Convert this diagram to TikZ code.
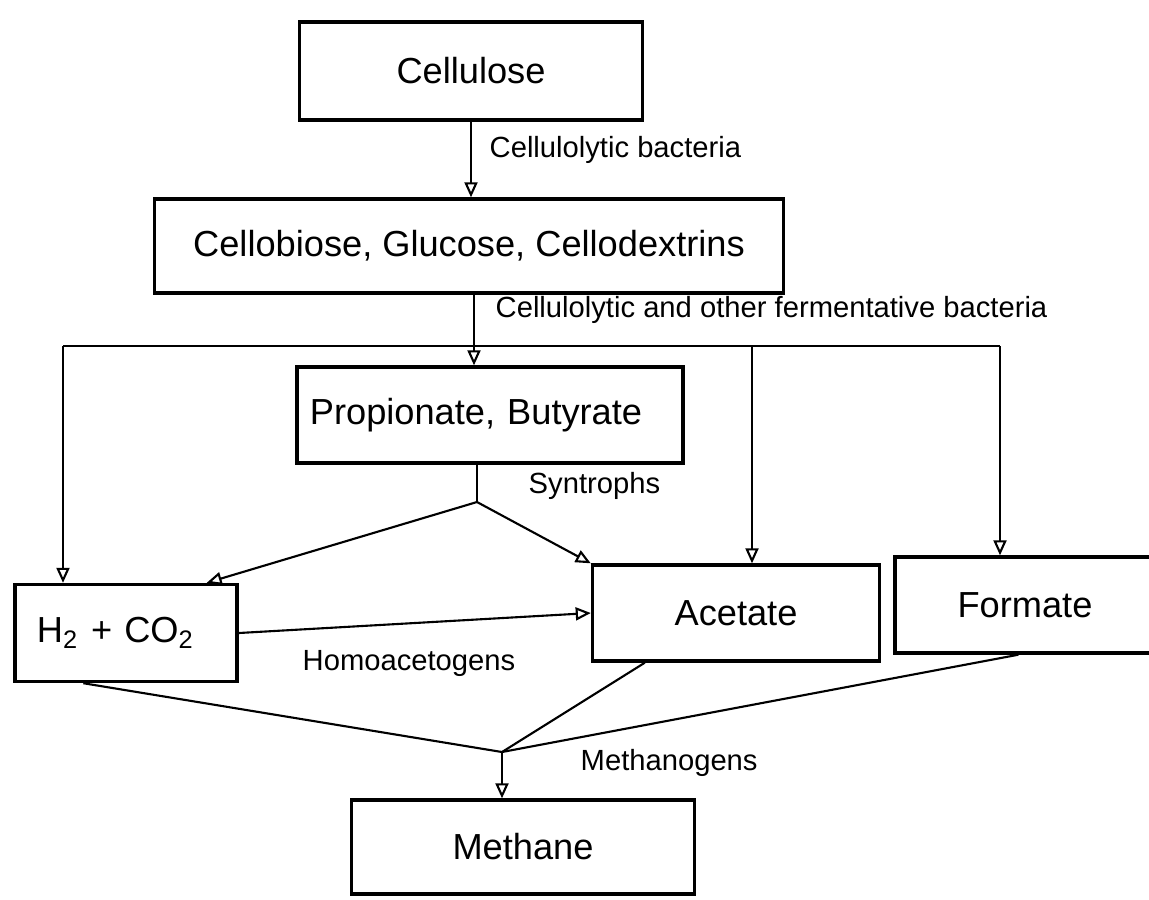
\documentclass[tikz,border=0pt]{standalone}
\usepackage{fontspec}
\setmainfont{Liberation Sans}
\usetikzlibrary{arrows.meta, calc}
\tikzset{
  box/.style={rectangle, draw=black, line width=0.95pt, minimum height=0.96cm,
    align=center, inner sep=0pt, font=\fontsize{10.3}{12}\selectfont},
  lbl/.style={anchor=west, inner sep=0pt, font=\fontsize{8.3}{10}\selectfont},
  arrow/.style={-{Triangle[open, length=1.5mm, width=1.3mm]}, line width=0.6pt},
  line/.style={line width=0.6pt}
}

\begin{document}
\begin{tikzpicture}[x=0.01cm, y=-0.01cm]
  \useasboundingbox (0,0) rectangle (1149,899);

  % Substances
  \node[box, minimum width=3.43cm, minimum height=0.98cm] (cell) at (471,71) {Cellulose};
  \node[box, minimum width=6.28cm, minimum height=0.94cm] (cello) at (469,246) {Cellobiose, Glucose, Cellodextrins};
  \node[box, text width=3.6cm, align=left, inner xsep=0.13cm] (prop) at (490,415) {Propionate, Butyrate};
  \node[box, text width=1.78cm, align=left, inner xsep=0.22cm, minimum height=0.97cm] (h2) at (126,633) {H\textsubscript{2} + CO\textsubscript{2}};
  \node[box, minimum width=2.87cm] (acet) at (736,613) {Acetate};
  \node[box, minimum width=2.60cm] (form) at (1025,605) {Formate};
  \node[box, minimum width=3.43cm, minimum height=0.94cm] (meth) at (523,847) {Methane};

  % Junction points
  \coordinate (jc) at (474,346);
  \coordinate (jl) at (63,346);
  \coordinate (ja) at (752,346);
  \coordinate (jf) at (1000,346);
  \coordinate (fork) at (477,502);
  \coordinate (merge) at (502,752);

  % Hydrolysis
  \draw[arrow] (cell.south) -- (cell.south |- cello.north);
  \node[lbl] (lblcell) at (489,150) {Cellulolytic bacteria};

  % Fermentation
  \draw[line] (jc |- cello.south) -- (jc);
  \draw[arrow] (jc) -- (jc |- prop.north);
  \draw[line] (jl) -- (jf);
  \draw[arrow] (jl) -- (jl |- h2.north);
  \draw[arrow] (ja) -- (ja |- acet.north);
  \draw[arrow] (jf) -- (jf |- form.north);
  \node[lbl] (lblferm) at (495,310) {Cellulolytic and other fermentative bacteria};

  % Syntrophy
  \draw[line] (fork |- prop.south) -- (fork);
  \draw[arrow] (fork) -- ([xshift=-0.32cm]h2.north east);
  \draw[arrow] (fork) -- (acet.north west);
  \node[lbl] (lblsyn) at (528,486) {Syntrophs};

  % Homoacetogenesis
  \draw[arrow] (h2.east) -- (acet.west);
  \node[lbl] (lblhomo) at (302,663) {Homoacetogens};

  % Methanogenesis
  \draw[line] ([xshift=0.7cm]h2.south west) -- (merge);
  \draw[line] ([xshift=0.54cm]acet.south west) -- (merge);
  \draw[line] ([xshift=1.25cm]form.south west) -- (merge);
  \draw[arrow] (merge) -- (merge |- meth.north);
  \node[lbl] (lblmeth) at (580,763) {Methanogens};
\end{tikzpicture}
\end{document}
